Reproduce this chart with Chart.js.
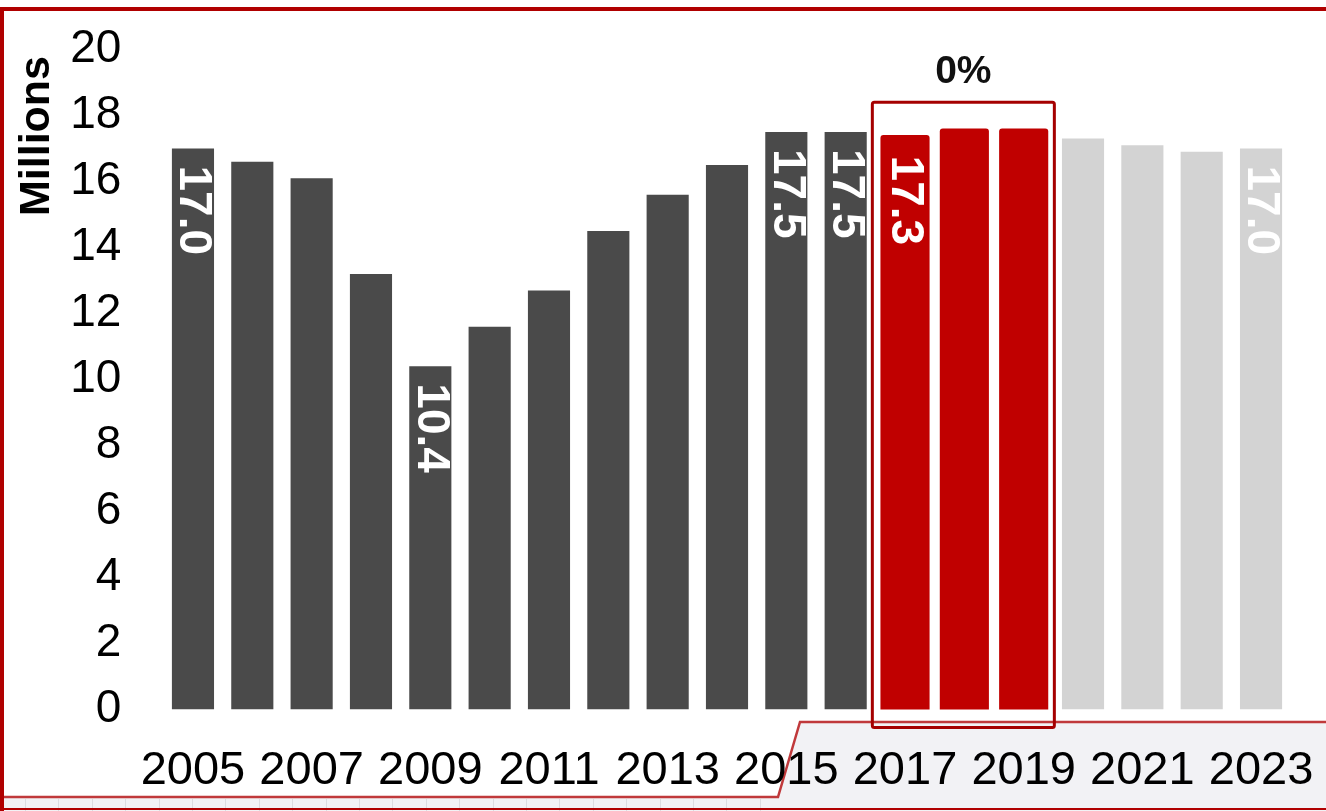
<!DOCTYPE html>
<html>
<head>
<meta charset="utf-8">
<script src="https://cdn.jsdelivr.net/npm/chart.js@4.4.1/dist/chart.umd.min.js"></script>
<style>
  body { margin: 0; background: #fff; }
  #wrap { width: 1326px; height: 811px; position: relative; }
</style>
</head>
<body>
<div id="wrap"><canvas id="salesChart" width="1326" height="811"></canvas></div>
<script>
// annual sales, millions of units
const years = ["2005", "2006", "2007", "2008", "2009", "2010", "2011", "2012", "2013", "2014",
               "2015", "2016", "2017", "2018", "2019", "2020", "2021", "2022", "2023"];
const sales = [17.0, 16.6, 16.1, 13.2, 10.4, 11.6, 12.7, 14.5, 15.6, 16.5,
               17.5, 17.5, 17.3, 17.5, 17.5, 17.3, 17.1, 16.9, 17.0];
const highlightYears = ["2017", "2018", "2019"];
const forecastYears = ["2020", "2021", "2022", "2023"];
const labelledYears = ["2005", "2009", "2015", "2016", "2017", "2023"];
const highlightChange = "0%";
const yTicks = [0, 2, 4, 6, 8, 10, 12, 14, 16, 18, 20];

const DARK = "#4a4a4a";
const RED = "#c00000";
const LIGHT = "#d3d3d3";
const FONT = "'Liberation Sans', Arial, sans-serif";

function barColor(ctx) {
    const y = years[ctx.dataIndex];
    if (highlightYears.includes(y)) return RED;
    if (forecastYears.includes(y)) return LIGHT;
    return DARK;
}

// page frame and the grey tab along the bottom
const framePlugin = {
    id: "frame",
    beforeDraw(chart) {
        const { ctx, width, height } = chart;
        ctx.save();
        ctx.fillStyle = "#fff";
        ctx.fillRect(0, 0, width, height);

        ctx.beginPath();
        ctx.moveTo(0, 797);
        ctx.lineTo(778, 797);
        ctx.lineTo(800, 722);
        ctx.lineTo(width, 722);
        ctx.lineTo(width, height);
        ctx.lineTo(0, height);
        ctx.closePath();
        ctx.fillStyle = "#f2f2f5";
        ctx.fill();

        ctx.strokeStyle = "#dcdce0";
        ctx.lineWidth = 1;
        for (let x = 25; x < 778; x += 33.4) {
            ctx.beginPath();
            ctx.moveTo(Math.round(x) + 0.5, 799);
            ctx.lineTo(Math.round(x) + 0.5, height);
            ctx.stroke();
        }

        ctx.beginPath();
        ctx.moveTo(0, 797);
        ctx.lineTo(778, 797);
        ctx.lineTo(800, 722);
        ctx.lineTo(width, 722);
        ctx.strokeStyle = "#c0393b";
        ctx.lineWidth = 2.5;
        ctx.stroke();

        ctx.strokeStyle = "#b00000";
        ctx.lineWidth = 4;
        ctx.beginPath();
        ctx.moveTo(2, height);
        ctx.lineTo(2, 9);
        ctx.lineTo(width, 9);
        ctx.stroke();
        ctx.lineWidth = 2;
        ctx.beginPath();
        ctx.moveTo(0, 809);
        ctx.lineTo(width, 809);
        ctx.stroke();
        ctx.restore();
    }
};

// rotated value labels, highlight box, axis caption
const annotatePlugin = {
    id: "annotate",
    afterDatasetsDraw(chart) {
        const { ctx } = chart;
        const meta = chart.getDatasetMeta(0);
        const x = chart.scales.x;
        const y = chart.scales.y;
        const step = x.width / years.length;

        ctx.save();
        ctx.font = "bold 46px " + FONT;
        ctx.fillStyle = "#fff";
        ctx.textAlign = "left";
        ctx.textBaseline = "middle";
        labelledYears.forEach(yr => {
            const i = years.indexOf(yr);
            const bar = meta.data[i];
            ctx.save();
            ctx.translate(bar.x, y.getPixelForValue(sales[i]) + 17);
            ctx.rotate(Math.PI / 2);
            ctx.fillText(sales[i].toFixed(1), 0, 0);
            ctx.restore();
        });

        const first = years.indexOf(highlightYears[0]);
        const last = years.indexOf(highlightYears[highlightYears.length - 1]);
        const left = x.getPixelForValue(first) - step / 2 - 3;
        const right = x.getPixelForValue(last) + step / 2 + 1;
        const top = y.getPixelForValue(18.4);
        const bottom = y.getPixelForValue(0) + 18;
        ctx.strokeStyle = "#a50000";
        ctx.lineWidth = 3;
        ctx.beginPath();
        ctx.roundRect(left, top, right - left, bottom - top, 2);
        ctx.stroke();

        ctx.fillStyle = "#111";
        ctx.font = "bold 39px " + FONT;
        ctx.textAlign = "center";
        ctx.textBaseline = "middle";
        ctx.fillText(highlightChange, (left + right) / 2, top - 30);
        ctx.restore();
    },
    afterDraw(chart) {
        const { ctx } = chart;
        ctx.save();
        ctx.translate(37, 136);
        ctx.rotate(-Math.PI / 2);
        ctx.font = "bold 43px " + FONT;
        ctx.fillStyle = "#000";
        ctx.textAlign = "center";
        ctx.textBaseline = "middle";
        ctx.fillText("Millions", 0, 0);
        ctx.restore();
    }
};

new Chart(document.getElementById("salesChart"), {
    type: "bar",
    data: {
        labels: years,
        datasets: [{
            data: sales,
            backgroundColor: barColor,
            categoryPercentage: 1,
            barPercentage: 0.71,
            inflateAmount: ctx => highlightYears.includes(years[ctx.dataIndex]) ? 3.5 : 0,
            borderRadius: ctx => highlightYears.includes(years[ctx.dataIndex]) ? 3 : 0,
            borderSkipped: false
        }]
    },
    options: {
        responsive: false,
        animation: false,
        layout: { padding: { top: 49.5, right: 35.3, left: 0, bottom: 0 } },
        plugins: { legend: { display: false }, tooltip: { enabled: false } },
        scales: {
            x: {
                grid: { display: false },
                border: { display: false },
                afterFit: s => {
                    s.height = 101.5;
                    s.paddingLeft = 0;
                    s.paddingRight = 0;
                },
                ticks: {
                    autoSkip: false,
                    maxRotation: 0,
                    padding: 25,
                    color: "#000",
                    font: { family: FONT, size: 47 },
                    callback: (v, i) => i % 2 === 0 ? years[i] : ""
                }
            },
            y: {
                min: 0,
                max: 20,
                grid: { display: false },
                border: { display: false },
                afterFit: s => {
                    s.width = 163.3;
                    s.paddingTop = 0;
                    s.paddingBottom = 0;
                },
                afterBuildTicks: s => { s.ticks = yTicks.map(v => ({ value: v })); },
                ticks: {
                    padding: 34,
                    color: "#000",
                    font: { family: FONT, size: 46 }
                }
            }
        }
    },
    plugins: [framePlugin, annotatePlugin]
});
</script>
</body>
</html>
